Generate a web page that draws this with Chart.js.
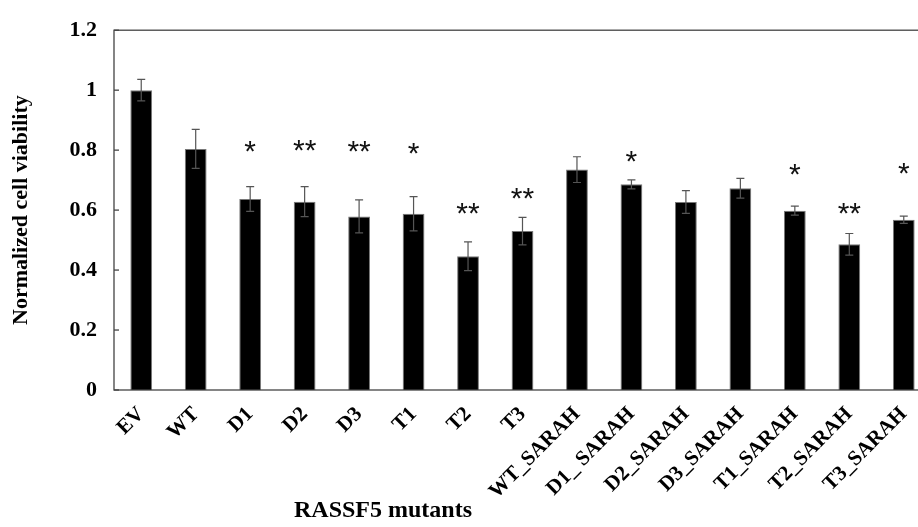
<!DOCTYPE html>
<html>
<head>
<meta charset="utf-8">
<script src="https://cdn.jsdelivr.net/npm/chart.js@4/dist/chart.umd.min.js"></script>
<style>
  html, body { margin: 0; padding: 0; background: #fff; overflow: hidden; }
  #wrap { width: 940px; height: 527px; }
</style>
</head>
<body>
<div id="wrap"><canvas id="viabilityChart" width="940" height="527"></canvas></div>
<script>
const mutants = ["EV", "WT", "D1", "D2", "D3", "T1", "T2", "T3",
  "WT_SARAH", "D1_ SARAH", "D2_SARAH", "D3_SARAH", "T1_SARAH", "T2_SARAH", "T3_SARAH"];
const viability = [1.0, 0.804, 0.637, 0.628, 0.579, 0.588, 0.446, 0.530,
  0.735, 0.686, 0.627, 0.673, 0.598, 0.486, 0.568];
const sem = [0.036, 0.065, 0.041, 0.05, 0.055, 0.057, 0.048, 0.046,
  0.043, 0.015, 0.038, 0.033, 0.015, 0.036, 0.012];
const stars = ["", "", "*", "**", "**", "*", "**", "**",
  "", "*", "", "", "*", "**", "*"];
const starAt = [0, 0, 0.813, 0.815, 0.811, 0.807, 0.606, 0.654,
  0, 0.779, 0, 0, 0.736, 0.606, 0.738];

const serif = "'Liberation Serif', 'Times New Roman', serif";

// error bars, inward ticks, frame and the asterisks
const extras = {
  id: 'extras',
  afterDatasetsDraw(chart) {
    const ctx = chart.ctx;
    const x = chart.scales.x, y = chart.scales.y;
    const area = chart.chartArea;
    ctx.save();
    ctx.strokeStyle = '#555';
    ctx.lineWidth = 1.2;
    viability.forEach((v, i) => {
      const px = x.getPixelForValue(i);
      const top = y.getPixelForValue(v + sem[i]);
      const bot = y.getPixelForValue(v - sem[i]);
      ctx.beginPath();
      ctx.moveTo(px, top); ctx.lineTo(px, bot);
      ctx.moveTo(px - 4, top); ctx.lineTo(px + 4, top);
      ctx.moveTo(px - 4, bot); ctx.lineTo(px + 4, bot);
      ctx.stroke();
    });
    // frame
    ctx.strokeStyle = '#444';
    ctx.lineWidth = 1.3;
    ctx.strokeRect(area.left, area.top, area.right - area.left, area.bottom - area.top);
    // inward ticks
    y.ticks.forEach(t => {
      const py = y.getPixelForValue(t.value);
      ctx.beginPath();
      ctx.moveTo(area.left, py); ctx.lineTo(area.left + 5, py);
      ctx.stroke();
    });
    // significance stars
    ctx.fillStyle = '#111';
    ctx.font = "30px 'Liberation Sans', Arial, sans-serif";
    ctx.textAlign = 'center';
    ctx.textBaseline = 'alphabetic';
    stars.forEach((s, i) => {
      if (!s) return;
      const m = ctx.measureText(s);
      const cy = y.getPixelForValue(starAt[i]);
      const base = cy + (m.actualBoundingBoxAscent - m.actualBoundingBoxDescent) / 2;
      ctx.fillText(s, x.getPixelForValue(i), base);
    });
    // x axis title
    ctx.fillStyle = '#000';
    ctx.font = "bold 24px " + serif;
    ctx.textBaseline = 'middle';
    ctx.fillText('RASSF5 mutants', 383, 511);
    ctx.restore();
  }
};

new Chart(document.getElementById('viabilityChart'), {
  type: 'bar',
  data: {
    labels: mutants,
    datasets: [{
      label: 'Normalized cell viability',
      data: viability,
      backgroundColor: '#000',
      borderColor: '#777',
      borderWidth: 1,
      barPercentage: 0.4,
      categoryPercentage: 1.0
    }]
  },
  options: {
    responsive: false,
    animation: false,
    layout: { padding: { top: 22, right: 9, left: 0, bottom: 0 } },
    plugins: { legend: { display: false }, tooltip: { enabled: false } },
    scales: {
      x: {
        grid: { display: false },
        border: { display: false },
        ticks: {
          color: '#000',
          font: { family: serif, weight: 'bold', size: 21 },
          minRotation: 45,
          maxRotation: 45,
          autoSkip: false,
          padding: 4
        },
        afterFit(scale) { scale.height = 137; }
      },
      y: {
        min: 0,
        max: 1.2,
        grid: { display: false, drawTicks: false },
        border: { display: false },
        ticks: {
          stepSize: 0.2,
          color: '#000',
          padding: 17,
          font: { family: serif, weight: 'bold', size: 22 },
          callback: v => String(Number(v.toFixed(2)))
        },
        title: {
          display: true,
          text: 'Normalized cell viability',
          color: '#000',
          font: { family: serif, weight: 'bold', size: 22 },
          padding: { top: 8, bottom: 0 }
        },
        afterFit(scale) { scale.width = 114; }
      }
    }
  },
  plugins: [extras]
});
</script>
</body>
</html>
